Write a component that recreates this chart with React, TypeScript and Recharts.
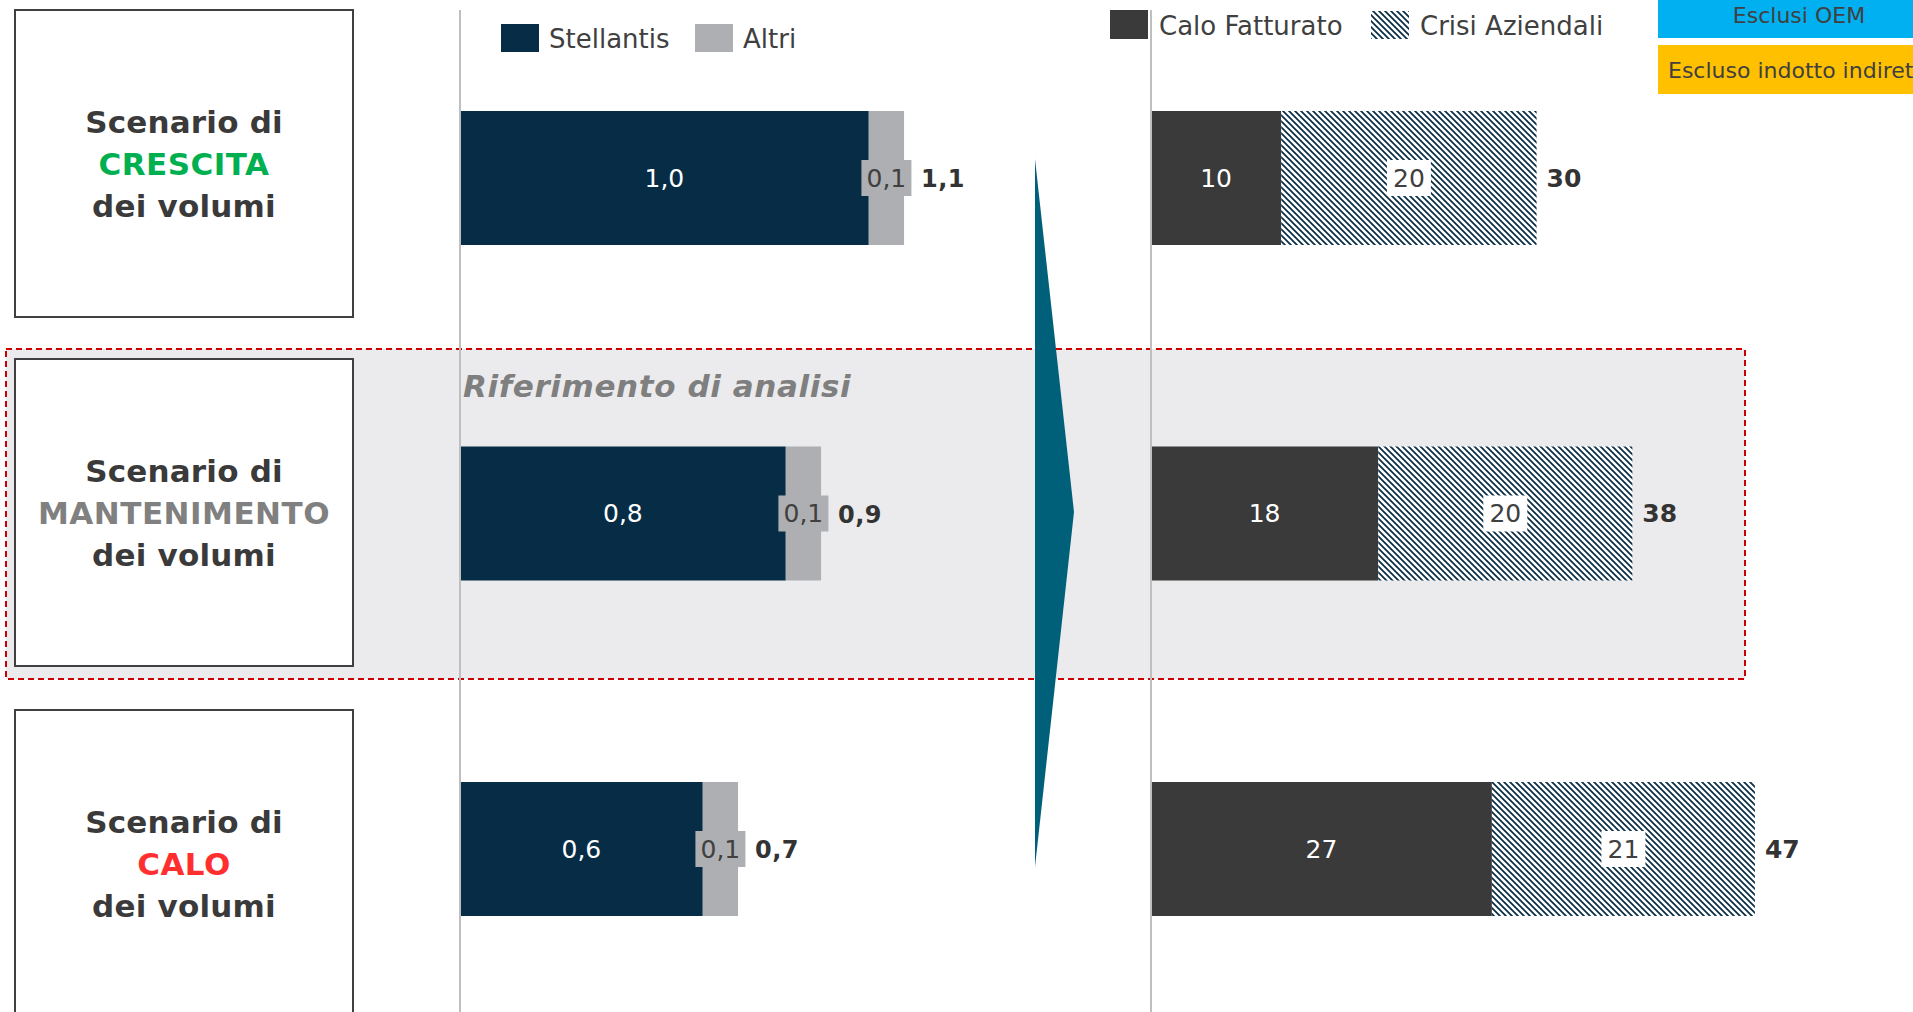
import React from 'react';
import { BarChart, Bar, XAxis, YAxis, LabelList, ReferenceLine } from 'recharts';

// ---- data ----
const scenarios = ['Crescita', 'Mantenimento', 'Calo'];
const scenarioWords = ['CRESCITA', 'MANTENIMENTO', 'CALO'];
const stellantis = [0.985, 0.785, 0.585];
const altri = [0.085, 0.085, 0.085];
const caloFatturato = [10.2, 17.8, 26.7];
const crisiAziendali = [20.0, 19.9, 20.6];
const leftLegend = ['Stellantis', 'Altri'];
const rightLegend = ['Calo Fatturato', 'Crisi Aziendali'];
const tagLabels = ['Esclusi OEM', 'Escluso indotto indiretto'];
const referenceLabel = 'Riferimento di analisi';

const scenarioColors = ['#00B050', '#808080', '#FF2F2F'];
const C_STELL = '#062D45';
const C_ALTRI = '#AEAFB2';
const C_CALO = '#3A3A3A';
const C_TEXT = '#404040';
const FONT = '"DejaVu Sans", Verdana, sans-serif';

const leftData = scenarios.map((name, i) => ({ name, stellantis: stellantis[i], altri: altri[i] }));
const rightData = scenarios.map((name, i) => ({ name, calo: caloFatturato[i], crisi: crisiAziendali[i] }));

const fmt1 = (v: number) => v.toFixed(1).replace('.', ',');
const fmt0 = (v: number) => Math.round(v).toString();

function getBox(p: any) {
  const vb = p.viewBox || {};
  return {
    x: Number(p.x ?? vb.x),
    y: Number(p.y ?? vb.y),
    w: Number(p.width ?? vb.width),
    h: Number(p.height ?? vb.height),
  };
}
function getIndex(p: any, y: number, h: number) {
  if (typeof p.index === 'number') return p.index;
  return Math.max(0, Math.min(2, Math.floor((y + h / 2 - 10) / 335.5)));
}

const StellantisLabel = (p: any) => {
  const b = getBox(p);
  const i = getIndex(p, b.y, b.h);
  return (
    <text x={b.x + b.w / 2} y={b.y + b.h / 2} fill="#fff" fontSize={25} fontFamily={FONT}
      textAnchor="middle" dominantBaseline="central">{fmt1(stellantis[i])}</text>
  );
};

const AltriLabel = (p: any) => {
  const b = getBox(p);
  const i = getIndex(p, b.y, b.h);
  const cx = b.x + b.w / 2;
  const cy = b.y + b.h / 2;
  return (
    <g>
      <rect x={cx - 25} y={cy - 18} width={50} height={36} fill={C_ALTRI} />
      <text x={cx} y={cy} fill={C_TEXT} fontSize={25} fontFamily={FONT} textAnchor="middle"
        dominantBaseline="central">{fmt1(altri[i])}</text>
      <text x={b.x + b.w + 17} y={cy + 1} fill="#333333" fontSize={24} fontWeight="bold" fontFamily={FONT}
        textAnchor="start" dominantBaseline="central" letterSpacing={0.4}>{fmt1(stellantis[i] + altri[i])}</text>
    </g>
  );
};

const CaloLabel = (p: any) => {
  const b = getBox(p);
  const i = getIndex(p, b.y, b.h);
  return (
    <text x={b.x + b.w / 2} y={b.y + b.h / 2} fill="#fff" fontSize={25} fontFamily={FONT}
      textAnchor="middle" dominantBaseline="central">{fmt0(caloFatturato[i])}</text>
  );
};

const CrisiLabel = (p: any) => {
  const b = getBox(p);
  const i = getIndex(p, b.y, b.h);
  const cx = b.x + b.w / 2;
  const cy = b.y + b.h / 2;
  return (
    <g>
      <rect x={cx - 22} y={cy - 18} width={44} height={36} fill="#fff" />
      <text x={cx} y={cy} fill={C_TEXT} fontSize={25} fontFamily={FONT} textAnchor="middle"
        dominantBaseline="central">{fmt0(crisiAziendali[i])}</text>
      <text x={b.x + b.w + 10} y={cy} fill="#333333" fontSize={25} fontWeight="bold" fontFamily={FONT}
        textAnchor="start" dominantBaseline="central">{fmt0(caloFatturato[i] + crisiAziendali[i])}</text>
    </g>
  );
};

const boxTops = [10, 359, 710];

export default function App() {
  return (
    <div style={{ position: 'fixed', left: 0, top: 0, width: 1913, height: 1012, overflow: 'hidden', background: '#fff', fontFamily: FONT }}>
      {/* background layer */}
      <svg width={1913} height={1012} style={{ position: 'absolute', left: 0, top: 0 }}>
        <defs>
          <pattern id="hatchPattern" patternUnits="userSpaceOnUse" width={6} height={6}>
            <rect x={0} y={0} width={6} height={6} fill="#fff" />
            <path d="M-1,-1 L7,7 M-1,5 L1,7 M5,-1 L7,1" stroke={C_STELL} strokeWidth={1.7} />
          </pattern>
        </defs>
        <rect x={6} y={349} width={1739} height={330} fill="#EBEBED" stroke="#CC0000" strokeWidth={2} strokeDasharray="6 4" />
      </svg>

      {/* left chart */}
      <div style={{ position: 'absolute', left: 0, top: 0 }}>
        <BarChart width={1290} height={1030} data={leftData} layout="vertical"
          margin={{ top: 10, right: 0, bottom: 13.5, left: 460 }} barSize={134}>
          <XAxis type="number" domain={[0, 2]} hide />
          <YAxis type="category" dataKey="name" hide />
          <ReferenceLine x={0} stroke="#BFBFBF" strokeWidth={2} />
          <Bar dataKey="stellantis" stackId="a" fill={C_STELL} isAnimationActive={false}>
            <LabelList dataKey="stellantis" content={StellantisLabel} />
          </Bar>
          <Bar dataKey="altri" stackId="a" fill={C_ALTRI} isAnimationActive={false}>
            <LabelList dataKey="altri" content={AltriLabel} />
          </Bar>
        </BarChart>
      </div>

      {/* right chart */}
      <div style={{ position: 'absolute', left: 1100, top: 0 }}>
        <BarChart width={766} height={1030} data={rightData} layout="vertical"
          margin={{ top: 10, right: 0, bottom: 13.5, left: 51 }} barSize={134}>
          <XAxis type="number" domain={[0, 56]} hide />
          <YAxis type="category" dataKey="name" hide />
          <ReferenceLine x={0} stroke="#BFBFBF" strokeWidth={2} />
          <Bar dataKey="calo" stackId="b" fill={C_CALO} isAnimationActive={false}>
            <LabelList dataKey="calo" content={CaloLabel} />
          </Bar>
          <Bar dataKey="crisi" stackId="b" fill="url(#hatchPattern)" isAnimationActive={false}>
            <LabelList dataKey="crisi" content={CrisiLabel} />
          </Bar>
        </BarChart>
      </div>

      {/* foreground layer */}
      <svg width={1913} height={1012} style={{ position: 'absolute', left: 0, top: 0, pointerEvents: 'none' }}>
        {boxTops.map((t, i) => {
          const cy = t + 153.5;
          return (
            <g key={i}>
              <rect x={15} y={t} width={338} height={307} fill="#fff" stroke={C_TEXT} strokeWidth={2} />
              <text x={184} y={cy - 42} textAnchor="middle" dominantBaseline="central" fontSize={31}
                fontWeight="bold" fontFamily={FONT} fill="#3A3A3A" letterSpacing={0.2}>Scenario di</text>
              <text x={184} y={cy} textAnchor="middle" dominantBaseline="central" fontSize={31}
                fontWeight="bold" fontFamily={FONT} fill={scenarioColors[i]} letterSpacing={0.5}>{scenarioWords[i]}</text>
              <text x={184} y={cy + 42} textAnchor="middle" dominantBaseline="central" fontSize={31}
                fontWeight="bold" fontFamily={FONT} fill="#3A3A3A" letterSpacing={0.2}>dei volumi</text>
            </g>
          );
        })}

        <text x={463} y={397} fontSize={31} fontWeight="bold" fontStyle="italic" fontFamily={FONT}
          fill="#7F7F7F" letterSpacing={0.6}>{referenceLabel}</text>

        <polygon points="1035,159 1074,512 1035,867" fill="#00607A" />

        {/* left legend */}
        <rect x={501} y={24} width={38} height={28} fill={C_STELL} />
        <text x={549} y={39} fontSize={26} fontFamily={FONT} fill={C_TEXT} dominantBaseline="central">{leftLegend[0]}</text>
        <rect x={695} y={24} width={38} height={28} fill={C_ALTRI} />
        <text x={743} y={39} fontSize={26} fontFamily={FONT} fill={C_TEXT} dominantBaseline="central">{leftLegend[1]}</text>

        {/* right legend */}
        <rect x={1110} y={10} width={38} height={29} fill={C_CALO} />
        <text x={1159} y={26} fontSize={26} fontFamily={FONT} fill={C_TEXT} dominantBaseline="central">{rightLegend[0]}</text>
        <rect x={1371} y={11} width={38} height={28} fill="url(#hatchPattern)" />
        <text x={1420} y={26} fontSize={26} fontFamily={FONT} fill={C_TEXT} dominantBaseline="central">{rightLegend[1]}</text>

        {/* top-right tags */}
        <rect x={1658} y={0} width={282} height={38} fill="#00B0F0" />
        <text x={1799} y={15} fontSize={22} fontFamily={FONT} fill={C_TEXT} textAnchor="middle" dominantBaseline="central">{tagLabels[0]}</text>
        <rect x={1658} y={45} width={282} height={49} fill="#FFC000" />
        <text x={1668} y={70} fontSize={22} fontFamily={FONT} fill={C_TEXT} dominantBaseline="central">{tagLabels[1]}</text>
      </svg>
    </div>
  );
}
